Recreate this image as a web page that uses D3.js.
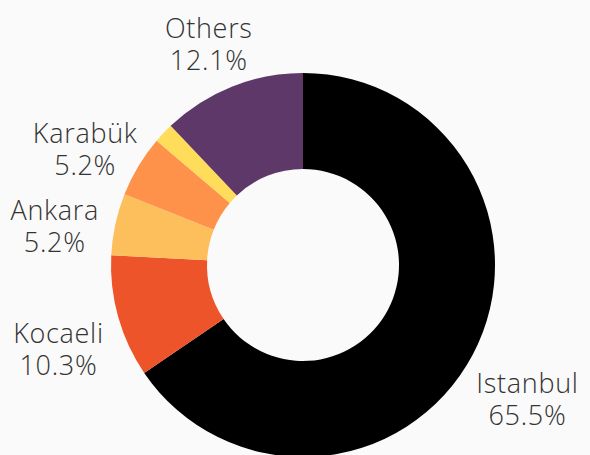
<!DOCTYPE html>
<html>
<head>
<meta charset="utf-8">
<script src="https://cdn.jsdelivr.net/npm/d3@7"></script>
<style>
  html, body { margin: 0; padding: 0; background: #fafafa; }
  svg { display: block; }
</style>
</head>
<body>
<div id="chart"></div>
<script>
// shares by city, clockwise from 12 o'clock
const cities = ["Istanbul", "Kocaeli", "Ankara", "Karabük", "Other city", "Others"];
const shares = [65.5, 10.3, 5.2, 5.2, 1.7, 12.1];
const colors = ["#000000", "#ee5429", "#fdbe5c", "#fe924a", "#ffdc5a", "#5d3868"];
const labelled = [true, true, true, true, false, true];

const width = 590
const height = 455
const cx = 303, cy = 265
const outerR = 192, innerR = 96
const labelR = 254

const data = cities.map((c, i) => ({city: c, share: shares[i], color: colors[i], show: labelled[i]}))

const svg = d3.select("#chart").append("svg")
    .attr("width", width)
    .attr("height", height)
    .attr("viewBox", [0, 0, width, height]);

const pie = d3.pie()
    .value(d => d.share)
    .sort(null)

const arc = d3.arc()
    .innerRadius(innerR)
    .outerRadius(outerR)

const labelArc = d3.arc()
    .innerRadius(labelR)
    .outerRadius(labelR)

const g = svg.append("g")
    .attr("transform", `translate(${cx},${cy})`)

const arcs = pie(data)

g.selectAll("path")
  .data(arcs)
  .join("path")
    .attr("fill", d => d.data.color)
    .attr("d", arc)

// two line labels outside the ring
const labels = g.selectAll("text")
  .data(arcs.filter(d => d.data.show))
  .join("text")
    .attr("transform", d => `translate(${labelArc.centroid(d)})`)
    .attr("text-anchor", "middle")
    .attr("font-family", "'Open Sans', sans-serif")
    .attr("font-weight", 300)
    .attr("font-size", 27)
    .attr("letter-spacing", 0.7)
    .attr("fill", "#333")

labels.append("tspan")
    .attr("x", 0)
    .attr("y", 9)
    .text(d => d.data.city)

labels.append("tspan")
    .attr("x", 0)
    .attr("y", 41)
    .text(d => d.data.share.toFixed(1) + "%")
</script>
</body>
</html>
